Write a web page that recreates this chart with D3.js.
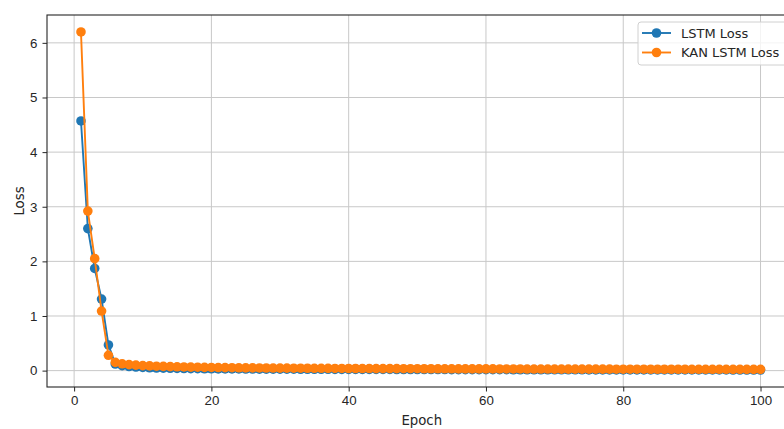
<!DOCTYPE html>
<html>
<head>
<meta charset="utf-8">
<script src="https://cdn.jsdelivr.net/npm/d3@7"></script>
<style>
  body { margin: 0; background: #fff; }
  svg { font-family: "DejaVu Sans", sans-serif; }
  .axis text { font-size: 13.3px; fill: #262626; }
  .axis path, .axis line { stroke: #262626; }
  .grid line { stroke: #c8c8c8; stroke-width: 1; }
  .axis-label { font-size: 13.3px; fill: #262626; }
</style>
</head>
<body>
<svg id="chart"></svg>
<script>

// series names
const seriesNames = ['LSTM Loss', 'KAN LSTM Loss'];

// loss per epoch (epochs 1..100)
const lstmLoss = [
  4.57, 2.60, 1.87, 1.31, 0.47, 0.12, 0.090, 0.075, 0.065, 0.058,
  0.052, 0.048, 0.045, 0.042, 0.040, 0.038, 0.036, 0.035, 0.034, 0.033,
  0.032, 0.031, 0.031, 0.030, 0.029, 0.029, 0.028, 0.028, 0.027, 0.027,
  0.026, 0.026, 0.025, 0.025, 0.025, 0.024, 0.024, 0.023, 0.023, 0.023,
  0.022, 0.022, 0.022, 0.021, 0.021, 0.021, 0.020, 0.020, 0.020, 0.020,
  0.019, 0.019, 0.019, 0.019, 0.018, 0.018, 0.018, 0.018, 0.017, 0.017,
  0.017, 0.017, 0.017, 0.016, 0.016, 0.016, 0.016, 0.016, 0.015, 0.015,
  0.015, 0.015, 0.015, 0.015, 0.014, 0.014, 0.014, 0.014, 0.014, 0.014,
  0.013, 0.013, 0.013, 0.013, 0.013, 0.013, 0.013, 0.012, 0.012, 0.012,
  0.012, 0.012, 0.012, 0.012, 0.012, 0.011, 0.011, 0.011, 0.011, 0.011
];

const kanLoss = [
  6.20, 2.92, 2.05, 1.09, 0.28, 0.15, 0.125, 0.110, 0.100, 0.092,
  0.086, 0.081, 0.077, 0.073, 0.070, 0.067, 0.064, 0.062, 0.060, 0.058,
  0.056, 0.055, 0.053, 0.052, 0.051, 0.050, 0.049, 0.048, 0.047, 0.046,
  0.045, 0.044, 0.044, 0.043, 0.042, 0.042, 0.041, 0.040, 0.040, 0.039,
  0.039, 0.038, 0.038, 0.037, 0.037, 0.036, 0.036, 0.035, 0.035, 0.035,
  0.034, 0.034, 0.033, 0.033, 0.033, 0.032, 0.032, 0.032, 0.031, 0.031,
  0.031, 0.030, 0.030, 0.030, 0.030, 0.029, 0.029, 0.029, 0.029, 0.028,
  0.028, 0.028, 0.028, 0.027, 0.027, 0.027, 0.027, 0.027, 0.026, 0.026,
  0.026, 0.026, 0.026, 0.025, 0.025, 0.025, 0.025, 0.025, 0.025, 0.024,
  0.024, 0.024, 0.024, 0.024, 0.024, 0.023, 0.023, 0.023, 0.023, 0.023
];

// tick labels
const xTicks = [0, 20, 40, 60, 80, 100];
const yTicks = [0, 1, 2, 3, 4, 5, 6];

const colors = ['#1f77b4', '#ff7f0e'];

const width = 784, height = 429;
// plot area runs a bit past the right edge (the reference is cropped there)
const margin = { top: 15, left: 47 };
const plotRight = 794.5, plotBottom = 387;

const svg = d3.select('#chart')
    .attr('width', width)
    .attr('height', height);

const x = d3.scaleLinear()
    .domain([-3.95, 104.95])
    .range([margin.left, plotRight]);

const y = d3.scaleLinear()
    .domain([-0.3, 6.51])
    .range([plotBottom, margin.top]);

// grid
const grid = svg.append('g').attr('class', 'grid');
grid.selectAll('.vgrid')
  .data(xTicks)
  .enter().append('line')
    .attr('x1', d => x(d)).attr('x2', d => x(d))
    .attr('y1', margin.top).attr('y2', plotBottom);
grid.selectAll('.hgrid')
  .data(yTicks)
  .enter().append('line')
    .attr('x1', margin.left).attr('x2', plotRight)
    .attr('y1', d => y(d)).attr('y2', d => y(d));

// series
const series = [lstmLoss, kanLoss].map((vals, k) => ({
  name: seriesNames[k],
  color: colors[k],
  values: vals.map((v, i) => ({ epoch: i + 1, loss: v }))
}));

const line = d3.line()
    .x(d => x(d.epoch))
    .y(d => y(d.loss));

series.forEach(s => {
  const g = svg.append('g');
  g.append('path')
    .datum(s.values)
    .attr('fill', 'none')
    .attr('stroke', s.color)
    .attr('stroke-width', 1.9)
    .attr('d', line);
  g.selectAll('circle')
    .data(s.values)
    .enter().append('circle')
      .attr('cx', d => x(d.epoch))
      .attr('cy', d => y(d.loss))
      .attr('r', 4.8)
      .attr('fill', s.color);
});

// axes
const xAxis = d3.axisBottom(x)
    .tickValues(xTicks)
    .tickFormat(d3.format('d'))
    .tickSize(4.5)
    .tickPadding(4)
    .tickSizeOuter(0);

const yAxis = d3.axisLeft(y)
    .tickValues(yTicks)
    .tickFormat(d3.format('d'))
    .tickSize(4.5)
    .tickPadding(5)
    .tickSizeOuter(0);

svg.append('g')
    .attr('class', 'axis x-axis')
    .attr('transform', `translate(0,${plotBottom})`)
    .call(xAxis)
    .call(g => g.select('.domain').remove());

svg.append('g')
    .attr('class', 'axis y-axis')
    .attr('transform', `translate(${margin.left},0)`)
    .call(yAxis)
    .call(g => g.select('.domain').remove());

// spines
svg.append('rect')
    .attr('x', margin.left)
    .attr('y', margin.top)
    .attr('width', plotRight - margin.left)
    .attr('height', plotBottom - margin.top)
    .attr('fill', 'none')
    .attr('stroke', '#262626')
    .attr('stroke-width', 1.1);

// axis labels
svg.append('text')
    .attr('class', 'axis-label')
    .attr('x', (margin.left + plotRight) / 2 + 1)
    .attr('y', 425)
    .style('text-anchor', 'middle')
    .text('Epoch');

svg.append('text')
    .attr('class', 'axis-label')
    .attr('transform', `translate(24,${(margin.top + plotBottom) / 2}) rotate(-90)`)
    .style('text-anchor', 'middle')
    .text('Loss');

// legend
const legend = svg.append('g')
    .attr('transform', 'translate(638,22)');

legend.append('rect')
    .attr('width', 160)
    .attr('height', 43)
    .attr('rx', 3)
    .attr('fill', 'white')
    .attr('fill-opacity', 0.8)
    .attr('stroke', '#d0d0d0');

const item = legend.selectAll('.item')
  .data(series)
  .enter().append('g')
    .attr('transform', (d, i) => `translate(0,${11 + i * 19.5})`);

item.append('line')
    .attr('x1', 4).attr('x2', 33)
    .attr('stroke', d => d.color)
    .attr('stroke-width', 1.9);
item.append('circle')
    .attr('cx', 18.5)
    .attr('r', 4.8)
    .attr('fill', d => d.color);
item.append('text')
    .attr('x', 43)
    .attr('dy', '0.35em')
    .style('font-size', '13px')
    .style('fill', '#262626')
    .text(d => d.name);

</script>
</body>
</html>
